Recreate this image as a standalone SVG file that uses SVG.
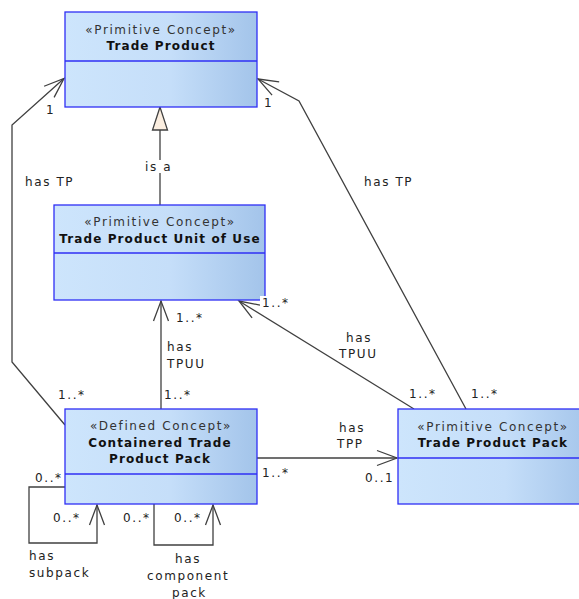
<svg xmlns="http://www.w3.org/2000/svg" width="579" height="599" viewBox="0 0 579 599">
  <style>
    .box { fill: url(#boxFill); stroke: #2f2ff5; stroke-width: 1.3; }
    .div { stroke: #2f2ff5; stroke-width: 1.3; }
    .st { font-family: "DejaVu Sans", Verdana, sans-serif; font-size: 12px; letter-spacing: 1.6px; fill: #333; text-anchor: middle; }
    .nm { font-family: "DejaVu Sans", Verdana, sans-serif; font-size: 12px; font-weight: bold; letter-spacing: 1.1px; fill: #111; text-anchor: middle; }
    .lbl { font-family: "DejaVu Sans", Verdana, sans-serif; font-size: 12px; letter-spacing: 1.6px; fill: #222; }
    .edge { fill: none; stroke: #404040; stroke-width: 1.3; }
  </style>
  <defs>
    <linearGradient id="boxFill" x1="0" y1="0" x2="1" y2="0">
      <stop offset="0" stop-color="#cde5fc"/>
      <stop offset="0.55" stop-color="#c5def9"/>
      <stop offset="1" stop-color="#a3c4ea"/>
    </linearGradient>
    <marker id="open" viewBox="-22 -10 24 20" refX="0" refY="0" markerWidth="24" markerHeight="20" markerUnits="userSpaceOnUse" orient="auto">
      <path d="M-20,-7.5 L0,0 L-20,7.5" fill="none" stroke="#404040" stroke-width="1.3"/>
    </marker>
  </defs>

  <rect width="579" height="599" fill="#fff"/>

  <!-- associations and generalization -->
  <g id="connectors">
    <!-- is a -->
    <line class="edge" x1="160" y1="205" x2="160" y2="130"/>
    <polygon points="160,107 152.5,130 167.5,130" fill="#fbeee0" stroke="#404040" stroke-width="1.3"/>
    <!-- has TP (left) -->
    <polyline class="edge" points="65,425 12,362 12,125 64,78.5" marker-end="url(#open)"/>
    <!-- has TP (right) -->
    <polyline class="edge" points="466,409 299,101 258,79" marker-end="url(#open)"/>
    <!-- has TPUU (vertical) -->
    <line class="edge" x1="161" y1="409" x2="161" y2="301" marker-end="url(#open)"/>
    <!-- has TPUU (diagonal) -->
    <line class="edge" x1="414" y1="409" x2="239" y2="301" marker-end="url(#open)"/>
    <!-- has TPP -->
    <line class="edge" x1="257" y1="458" x2="397" y2="458" marker-end="url(#open)"/>
    <!-- has subpack -->
    <polyline class="edge" points="65,487 29,487 29,543 97,543 97,505" marker-end="url(#open)"/>
    <!-- has component pack -->
    <polyline class="edge" points="154,504 154,545 213,545 213,505" marker-end="url(#open)"/>
  </g>

  <g id="trade-product">
    <rect class="box" x="65" y="12" width="192" height="95"/>
    <line class="div" x1="65" y1="61" x2="257" y2="61"/>
    <text class="st" x="161" y="34">«Primitive Concept»</text>
    <text class="nm" x="161" y="50">Trade Product</text>
  </g>

  <g id="trade-product-unit-of-use">
    <rect class="box" x="54" y="205" width="211" height="95"/>
    <line class="div" x1="54" y1="253" x2="265" y2="253"/>
    <text class="st" x="160" y="226">«Primitive Concept»</text>
    <text class="nm" x="160" y="243">Trade Product Unit of Use</text>
  </g>

  <g id="containered-trade-product-pack">
    <rect class="box" x="65" y="409" width="192" height="95"/>
    <line class="div" x1="65" y1="474" x2="257" y2="474"/>
    <text class="st" x="161" y="430">«Defined Concept»</text>
    <text class="nm" x="160" y="447">Containered Trade</text>
    <text class="nm" x="160" y="463">Product Pack</text>
  </g>

  <g id="trade-product-pack">
    <rect class="box" x="398" y="409" width="195" height="95"/>
    <line class="div" x1="398" y1="458" x2="593" y2="458"/>
    <text class="st" x="493" y="431">«Primitive Concept»</text>
    <text class="nm" x="493" y="447">Trade Product Pack</text>
  </g>

  <!-- role names and multiplicities -->
  <g id="labels">
    <rect x="143" y="160" width="32" height="13" fill="#fff"/>
    <text class="lbl" x="145" y="171">is a</text>

    <text class="lbl" x="46" y="114">1</text>
    <text class="lbl" x="25" y="186">has TP</text>
    <text class="lbl" x="58" y="399">1..*</text>

    <text class="lbl" x="264" y="107">1</text>
    <text class="lbl" x="364" y="186">has TP</text>
    <text class="lbl" x="471" y="398">1..*</text>

    <text class="lbl" x="176" y="322">1..*</text>
    <text class="lbl" x="167" y="351">has</text>
    <text class="lbl" x="167" y="368">TPUU</text>
    <text class="lbl" x="164" y="399">1..*</text>

    <rect x="260" y="296" width="30" height="13" fill="#fff"/>
    <text class="lbl" x="262" y="307">1..*</text>
    <text class="lbl" x="346" y="342">has</text>
    <text class="lbl" x="339" y="358">TPUU</text>
    <text class="lbl" x="409" y="398">1..*</text>

    <text class="lbl" x="339" y="432">has</text>
    <text class="lbl" x="337" y="448">TPP</text>
    <text class="lbl" x="262" y="477">1..*</text>
    <text class="lbl" x="365" y="482">0..1</text>

    <text class="lbl" x="35" y="482">0..*</text>
    <text class="lbl" x="53" y="522">0..*</text>
    <text class="lbl" x="29" y="560">has</text>
    <text class="lbl" x="29" y="577">subpack</text>

    <text class="lbl" x="123" y="522">0..*</text>
    <text class="lbl" x="174" y="522">0..*</text>
    <text class="lbl" x="175" y="563">has</text>
    <text class="lbl" x="147" y="580">component</text>
    <text class="lbl" x="172" y="597">pack</text>
  </g>
</svg>
